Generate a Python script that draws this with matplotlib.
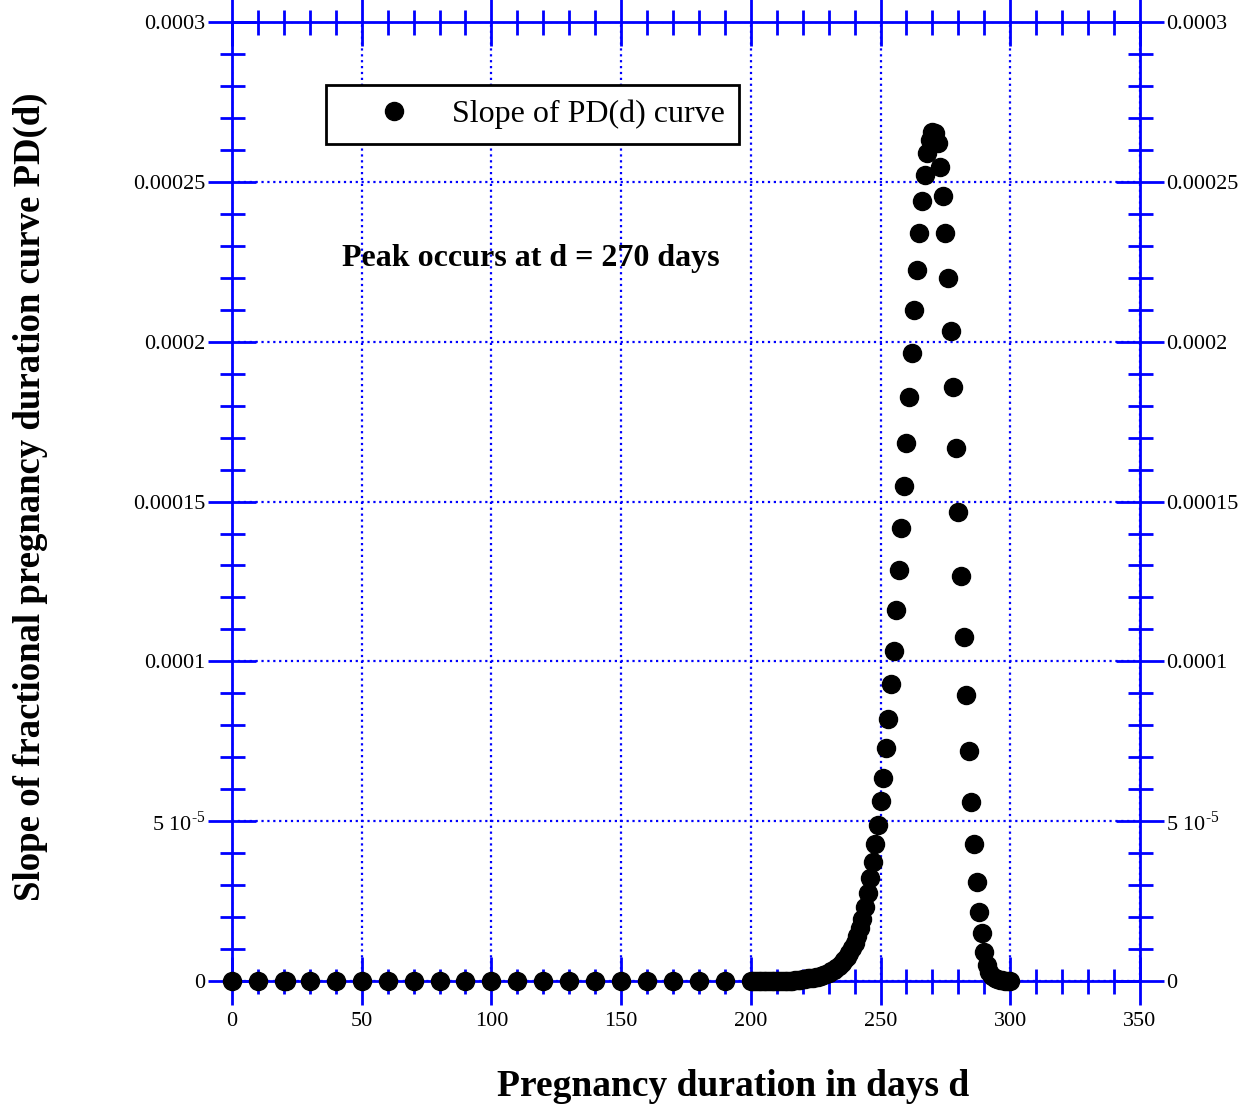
import numpy as np
import matplotlib
matplotlib.use("Agg")
import matplotlib.pyplot as plt
from matplotlib.ticker import MultipleLocator

plt.rcParams['font.family'] = ['Liberation Serif', 'DejaVu Serif']
plt.rcParams['mathtext.fontset'] = 'custom'
plt.rcParams['mathtext.rm'] = 'Liberation Serif'

# sparse points before day 200 (slope ~ 0)
days_early = [0, 10, 20, 21, 30, 40, 50, 60, 70, 80, 90, 100, 110, 120, 130,
              140, 150, 160, 170, 180, 190]
slope_early = [0.0] * len(days_early)

# daily points 200..300, slope in units of 1e-5
days_late = list(range(200, 301))
slope_late_e5 = [
    0.000, 0.000, 0.000, 0.000, 0.001, 0.001, 0.001, 0.002, 0.002, 0.003,   # 200-209
    0.004, 0.005, 0.006, 0.008, 0.010, 0.013, 0.016, 0.020, 0.025, 0.031,   # 210-219
    0.060, 0.070, 0.080, 0.090, 0.100, 0.120, 0.140, 0.160, 0.190, 0.220,   # 220-229
    0.26, 0.30, 0.35, 0.41, 0.48, 0.56, 0.65, 0.76, 0.89, 1.03,             # 230-239
    1.20, 1.40, 1.65, 1.95, 2.33, 2.75, 3.22, 3.72, 4.29, 4.88,             # 240-249
    5.63, 6.35, 7.29, 8.20, 9.29, 10.32, 11.60, 12.86, 14.17, 15.48,        # 250-259
    16.83, 18.27, 19.64, 20.99, 22.24, 23.40, 24.40, 25.21, 25.90, 26.31,   # 260-269
    26.56, 26.53, 26.21, 25.46, 24.55, 23.40, 21.99, 20.33, 18.58, 16.67,   # 270-279
    14.67, 12.67, 10.76, 8.95, 7.19, 5.60, 4.29, 3.10, 2.16, 1.50,          # 280-289
    0.91, 0.50, 0.28, 0.16, 0.09, 0.05, 0.03, 0.02, 0.01, 0.005,            # 290-299
    0.0,                                                                    # 300
]

ytick_vals = [0, 5e-5, 1e-4, 1.5e-4, 2e-4, 2.5e-4, 3e-4]
ytick_labels = ['0', r'5 10$^{\text{-5}}$', '0.0001', '0.00015', '0.0002',
                '0.00025', '0.0003']
xtick_vals = [0, 50, 100, 150, 200, 250, 300, 350]

blue = '#0000ff'

fig = plt.figure(figsize=(12.52, 11.08), dpi=100)
ax = fig.add_axes([0.1853, 0.1146, 0.7252, 0.8655])

x = days_early + days_late
y = slope_early + [v * 1e-5 for v in slope_late_e5]
ax.plot(x, y, 'o', color='black', ms=13, clip_on=False, zorder=5,
        label='Slope of PD(d) curve')

ax.set_xlim(0, 350)
ax.set_ylim(0, 0.0003)
ax.set_xticks(xtick_vals)
ax.set_yticks(ytick_vals)
ax.set_yticklabels(ytick_labels)
ax.xaxis.set_minor_locator(MultipleLocator(10))
ax.yaxis.set_minor_locator(MultipleLocator(1e-5))

for sp in ax.spines.values():
    sp.set_color(blue)
    sp.set_linewidth(2)

ax.tick_params(which='both', direction='inout', color=blue, width=2,
               top=True, right=True, labelright=True, labelsize=16, pad=5)
ax.tick_params(axis='y', which='major', pad=2)
ax.tick_params(which='major', length=34)
ax.tick_params(which='minor', length=18)

ax.grid(True, which='major', color=blue, linestyle=':', linewidth=1.6)
ax.set_axisbelow(True)

ax.set_xlabel('Pregnancy duration in days d', fontsize=27, fontweight='bold')
ax.xaxis.set_label_coords(0.552, -0.092)
ax.set_ylabel('Slope of fractional pregnancy duration curve PD(d)',
              fontsize=26.5, fontweight='bold')
ax.yaxis.set_label_coords(-0.203, 0.505)

ax.text(115, 0.000226, 'Peak occurs at d = 270 days', fontsize=23,
        fontweight='bold', ha='center', va='center')

leg = ax.legend(loc='upper left', bbox_to_anchor=(0.1035, 0.934),
                borderaxespad=0, fontsize=23, handlelength=3.35,
                handletextpad=0.15, borderpad=0.45, fancybox=False,
                framealpha=1, edgecolor='black')
leg.get_frame().set_linewidth(2)

fig.savefig('out.png', dpi=100)
